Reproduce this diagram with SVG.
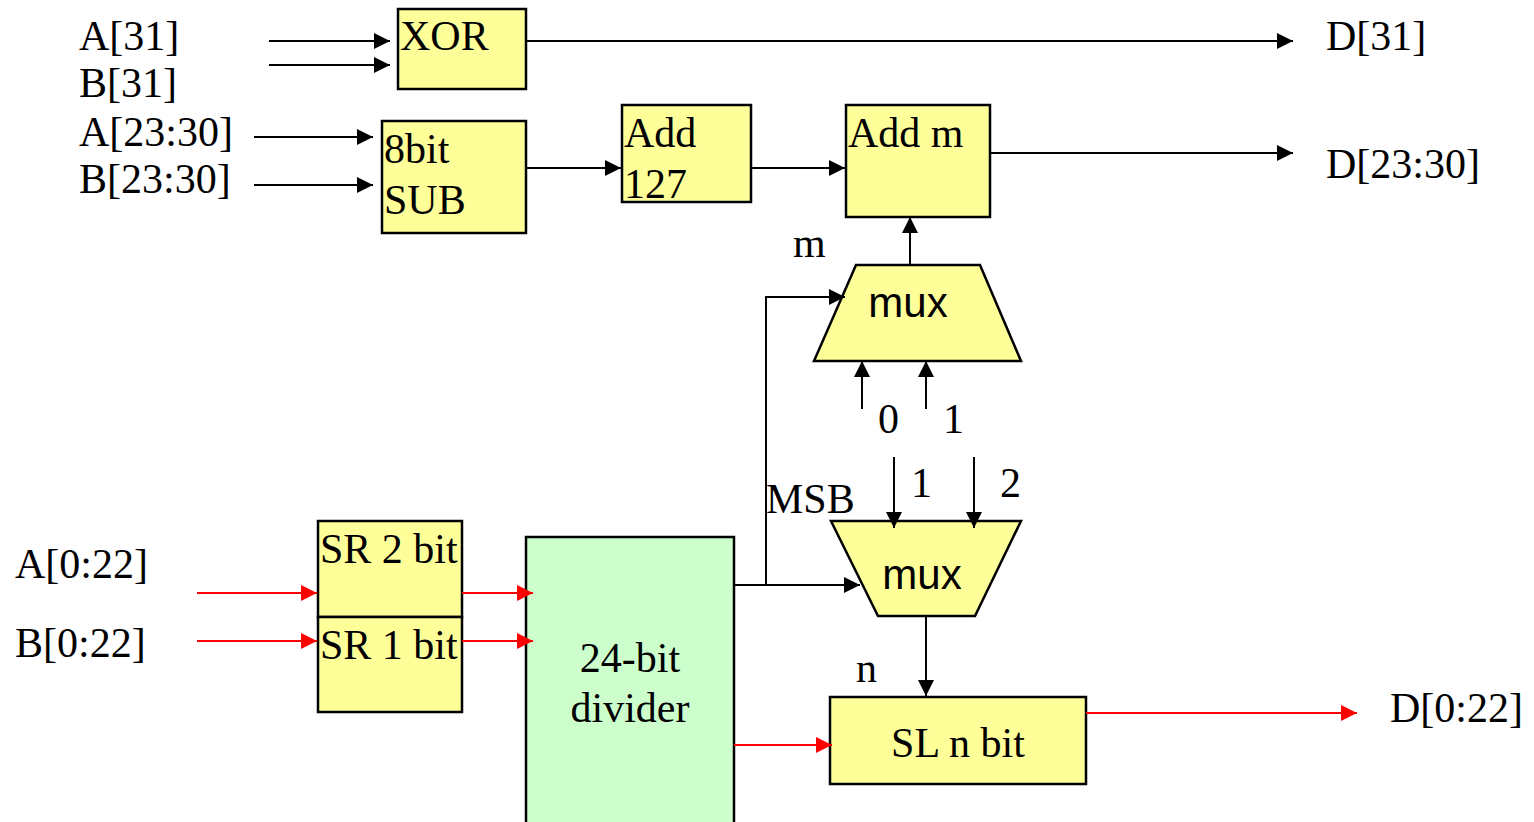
<svg xmlns="http://www.w3.org/2000/svg" width="1534" height="822" viewBox="0 0 1534 822">
<defs>
<marker id="ab" markerUnits="userSpaceOnUse" markerWidth="16" markerHeight="16" refX="16" refY="8" orient="auto"><path d="M0,0 L16,8 L0,16 z" fill="#000"/></marker>
<marker id="ar" markerUnits="userSpaceOnUse" markerWidth="16" markerHeight="16" refX="16" refY="8" orient="auto"><path d="M0,0 L16,8 L0,16 z" fill="#ff0000"/></marker>
</defs>
<style>
.box{fill:#ffff99;stroke:#000;stroke-width:2.5}
.grn{fill:#ccffcc;stroke:#000;stroke-width:2.5}
.t{font-family:"Liberation Serif","Times New Roman",serif;font-size:42px;fill:#000}
.s{font-family:"Liberation Sans",Arial,sans-serif;font-size:42px;fill:#000}
.k{stroke:#000;stroke-width:2;fill:none}
.r{stroke:#ff0000;stroke-width:2;fill:none}
</style>
<rect width="1534" height="822" fill="#fff"/>
<g id="labels">
<text class="t" x="79" y="50">A[31]</text>
<text class="t" x="79" y="97">B[31]</text>
<text class="t" x="79" y="146">A[23:30]</text>
<text class="t" x="79" y="193">B[23:30]</text>
<text class="t" x="15" y="578">A[0:22]</text>
<text class="t" x="15" y="657">B[0:22]</text>
<text class="t" x="1326" y="50">D[31]</text>
<text class="t" x="1326" y="178">D[23:30]</text>
<text class="t" x="1390" y="722">D[0:22]</text>
<text class="t" x="793" y="257">m</text>
<text class="t" x="878" y="433">0</text>
<text class="t" x="943" y="433">1</text>
<text class="t" x="911" y="497">1</text>
<text class="t" x="1000" y="497">2</text>
<text class="t" x="766" y="513">MSB</text>
<text class="t" x="856" y="682">n</text>
</g>
<g id="xor"><rect class="box" x="398" y="9" width="128" height="80"/><text class="t" x="400" y="50">XOR</text></g>
<g id="sub"><rect class="box" x="382" y="121" width="144" height="112"/><text class="t" x="384" y="163">8bit</text><text class="t" x="384" y="214">SUB</text></g>
<g id="add127"><rect class="box" x="622" y="105" width="129" height="97"/><text class="t" x="624" y="147">Add</text><text class="t" x="624" y="198">127</text></g>
<g id="addm"><rect class="box" x="846" y="105" width="144" height="112"/><text class="t" x="848" y="147">Add m</text></g>
<g id="mux1"><polygon class="box" points="856,265 980,265 1021,361 814,361"/><text class="s" x="908" y="317" text-anchor="middle">mux</text></g>
<g id="mux2"><polygon class="box" points="831,521 1021,521 975,616 878,616"/><text class="s" x="922" y="589" text-anchor="middle">mux</text></g>
<g id="sr2"><rect class="box" x="318" y="521" width="144" height="96"/><text class="t" x="320" y="563">SR 2 bit</text></g>
<g id="sr1"><rect class="box" x="318" y="617" width="144" height="95"/><text class="t" x="320" y="659">SR 1 bit</text></g>
<g id="divider"><rect class="grn" x="526" y="537" width="208" height="300"/><text class="t" x="630" y="672" text-anchor="middle">24-bit</text><text class="t" x="630" y="722" text-anchor="middle">divider</text></g>
<g id="sl"><rect class="box" x="830" y="697" width="256" height="87"/><text class="t" x="958" y="757" text-anchor="middle">SL n bit</text></g>
<g id="connectors">
<line class="k" x1="269" y1="41" x2="390" y2="41" marker-end="url(#ab)"/>
<line class="k" x1="269" y1="65" x2="390" y2="65" marker-end="url(#ab)"/>
<line class="k" x1="254" y1="137" x2="373" y2="137" marker-end="url(#ab)"/>
<line class="k" x1="254" y1="185" x2="373" y2="185" marker-end="url(#ab)"/>
<line class="k" x1="526" y1="41" x2="1293" y2="41" marker-end="url(#ab)"/>
<line class="k" x1="526" y1="168" x2="621" y2="168" marker-end="url(#ab)"/>
<line class="k" x1="751" y1="168" x2="845" y2="168" marker-end="url(#ab)"/>
<line class="k" x1="990" y1="153" x2="1293" y2="153" marker-end="url(#ab)"/>
<line class="k" x1="910" y1="265" x2="910" y2="217" marker-end="url(#ab)"/>
<polyline class="k" points="766,585 766,297 845,297" marker-end="url(#ab)"/>
<line class="k" x1="734" y1="585" x2="860" y2="585" marker-end="url(#ab)"/>
<line class="k" x1="862" y1="409" x2="862" y2="361" marker-end="url(#ab)"/>
<line class="k" x1="926" y1="409" x2="926" y2="361" marker-end="url(#ab)"/>
<line class="k" x1="894" y1="457" x2="894" y2="528" marker-end="url(#ab)"/>
<line class="k" x1="974" y1="457" x2="974" y2="528" marker-end="url(#ab)"/>
<line class="k" x1="926" y1="616" x2="926" y2="696" marker-end="url(#ab)"/>
<line class="r" x1="197" y1="593" x2="317" y2="593" marker-end="url(#ar)"/>
<line class="r" x1="197" y1="641" x2="317" y2="641" marker-end="url(#ar)"/>
<line class="r" x1="462" y1="593" x2="533" y2="593" marker-end="url(#ar)"/>
<line class="r" x1="462" y1="641" x2="533" y2="641" marker-end="url(#ar)"/>
<line class="r" x1="734" y1="745" x2="832" y2="745" marker-end="url(#ar)"/>
<line class="r" x1="1086" y1="713" x2="1357" y2="713" marker-end="url(#ar)"/>
</g>
</svg>
